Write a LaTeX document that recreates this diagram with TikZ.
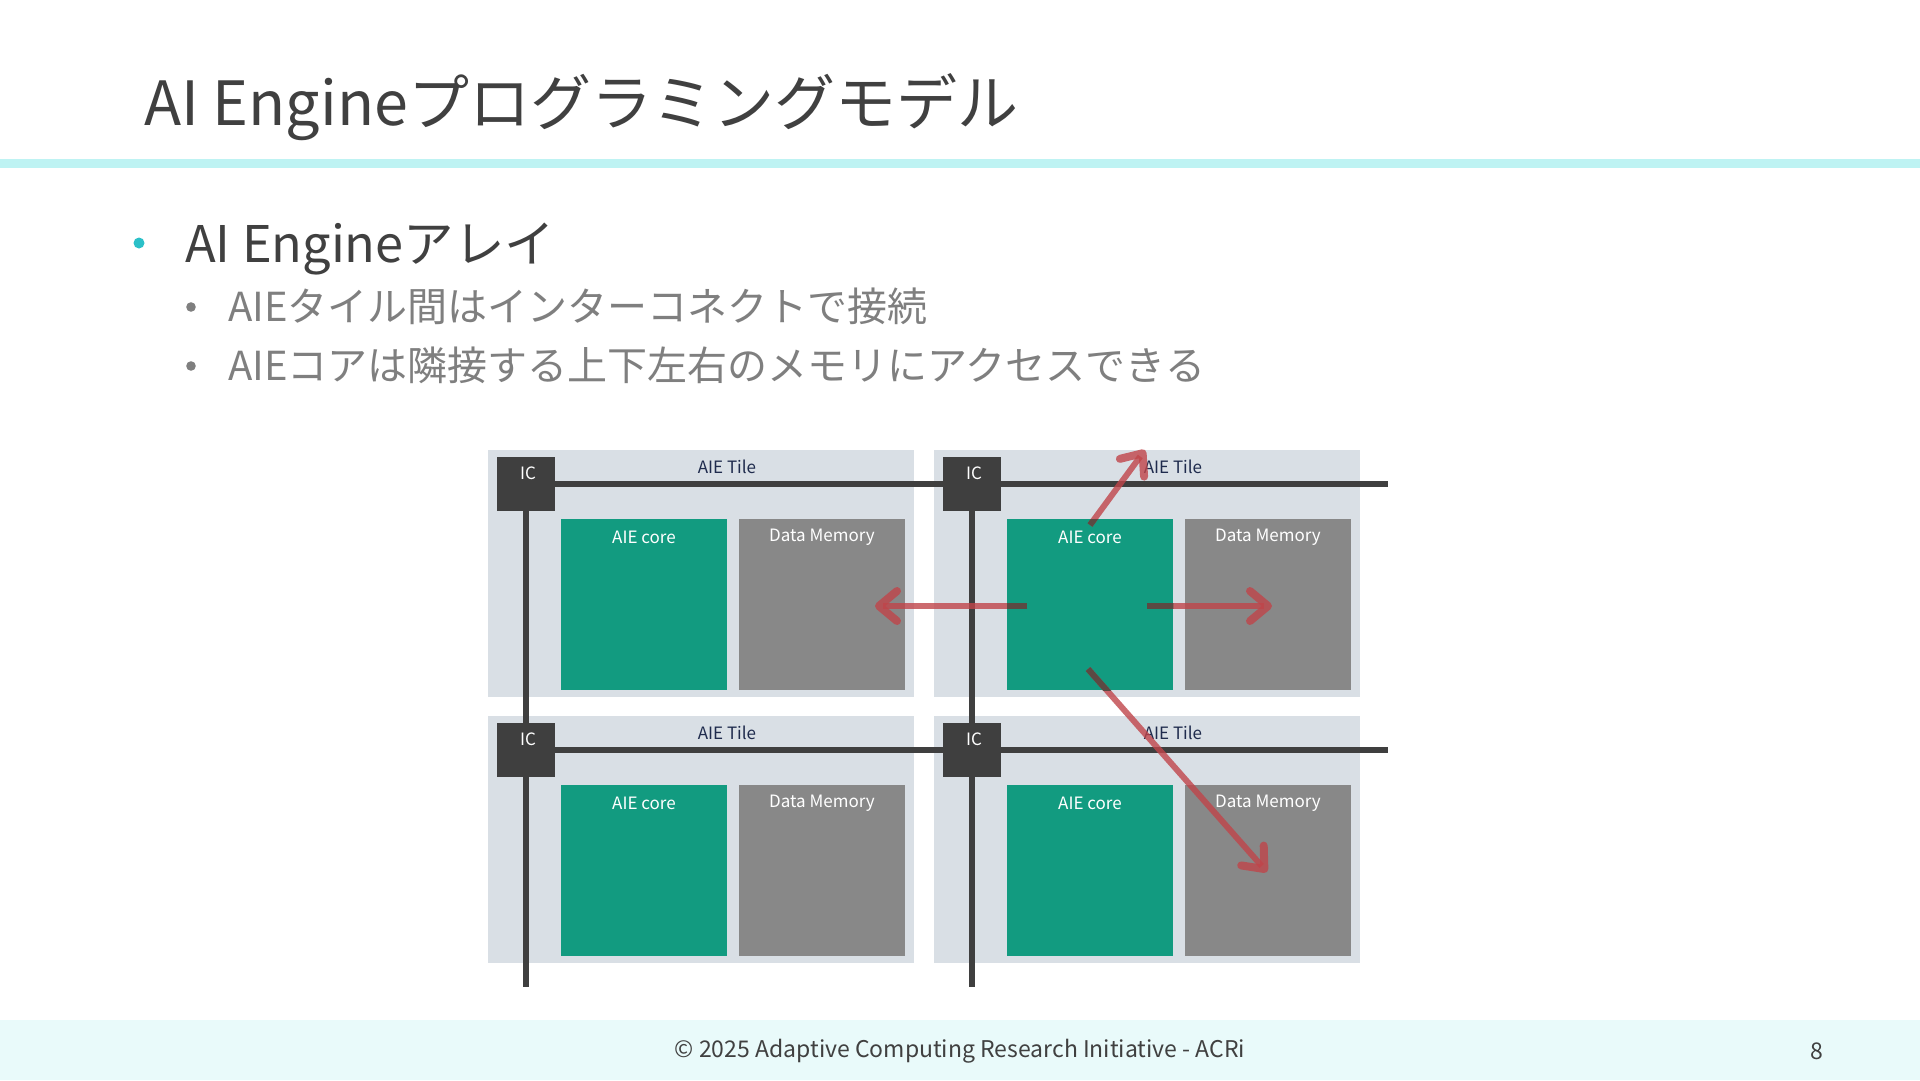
\documentclass[tikz,border=0pt]{standalone}
\usepackage{fontspec}
\setmainfont{Noto Sans CJK JP}
\usetikzlibrary{arrows.meta,positioning,calc}
\definecolor{titlegray}{HTML}{404040}
\definecolor{subgray}{HTML}{7F7F7F}
\definecolor{bandcyan}{HTML}{BEF3F3}
\definecolor{footcyan}{HTML}{E9FAFA}
\definecolor{dotcyan}{HTML}{2BC0C8}
\definecolor{tilebg}{HTML}{D9DFE5}
\definecolor{icgray}{HTML}{3F3F3F}
\definecolor{coreteal}{HTML}{129B80}
\definecolor{memgray}{HTML}{888888}
\definecolor{tilenavy}{HTML}{1F2B4D}
\definecolor{arrowred}{HTML}{C0454A}
\definecolor{arrowdark}{HTML}{5B4A43}
\tikzset{
  tilebox/.style={fill=tilebg, draw=none, minimum width=426pt, minimum height=247pt, inner sep=0pt, anchor=north west},
  icbox/.style={fill=icgray, draw=none, minimum width=58pt, minimum height=54pt, inner sep=0pt},
  corebox/.style={fill=coreteal, draw=none, minimum width=166pt, minimum height=171pt, inner sep=0pt, anchor=north west},
  membox/.style={fill=memgray, draw=none, minimum width=166pt, minimum height=171pt, inner sep=0pt, anchor=north west},
  tilelabel/.style={text=tilenavy, font=\fontsize{17}{20}\selectfont, inner sep=0pt},
  whitelabel/.style={text=white, font=\fontsize{17}{20}\selectfont, inner sep=0pt},
  bus/.style={draw=icgray, line width=6pt},
  access/.style={draw=arrowred, draw opacity=0.8, line width=6pt, -{Straight Barb[length=18pt,width=30pt,line width=8pt,round]}},
  accessin/.style={draw=arrowdark, line width=6pt},
}
\begin{document}
\begin{tikzpicture}[x=1pt,y=-1pt]
\useasboundingbox (0,0) rectangle (1920,1080);
% header / footer
\fill[white] (0,0) rectangle (1920,1080);
\fill[bandcyan] (0,159) rectangle (1920,168);
\fill[footcyan] (0,1020) rectangle (1920,1080);
\node[anchor=base west, inner sep=0pt, text=titlegray, font=\fontsize{61}{73}\selectfont] (title) at (144,125) {AI Engineプログラミングモデル};
\fill[dotcyan] (139,243) circle (5.5);
\node[anchor=base west, inner sep=0pt, text=titlegray, font=\fontsize{50.5}{60}\selectfont] (b1) at (185,262) {AI Engineアレイ};
\fill[subgray] (191,307) circle (4.8);
\node[anchor=base west, inner sep=0pt, text=subgray, font=\fontsize{40}{48}\selectfont] (b2) at (228,321) {AIEタイル間はインターコネクトで接続};
\fill[subgray] (191,366) circle (4.8);
\node[anchor=base west, inner sep=0pt, text=subgray, font=\fontsize{40}{48}\selectfont] (b3) at (228,380) {AIEコアは隣接する上下左右のメモリにアクセスできる};
\node[text=titlegray, inner sep=0pt, font=\fontsize{23}{28}\selectfont] (foot) at (960,1051) {© 2025 Adaptive Computing Research Initiative - ACRi};
\node[text=titlegray, inner sep=0pt, font=\fontsize{23}{28}\selectfont] (pnum) at (1817,1051) {8};
% tiles
\foreach \r/\ty in {1/450,2/716}{
  \foreach \c/\tx in {1/488,2/934}{
    \node[tilebox] (tile\r\c) at (\tx,\ty) {};
    \node[tilelabel] (tl\r\c) at (\tx+239,\ty+17) {AIE Tile};
    \node[corebox] (core\r\c) at (\tx+73,\ty+69) {};
    \node[whitelabel] (cl\r\c) at (\tx+73+83,\ty+69+18) {AIE core};
    \node[membox] (mem\r\c) at (\tx+251,\ty+69) {};
    \node[whitelabel] (ml\r\c) at (\tx+251+83,\ty+69+18) {Data Memory};
  }
}
% interconnect
\coordinate (h1end) at (1388,484);
\coordinate (h2end) at (1388,750);
\coordinate (v1end) at (526,987);
\coordinate (v2end) at (972,987);
\node[icbox] (ic11) at (526,484) {};
\node[icbox] (ic12) at (972,484) {};
\node[icbox] (ic21) at (526,750) {};
\node[icbox] (ic22) at (972,750) {};
\draw[bus] (ic11.east) -- (ic12.west);
\draw[bus] (ic12.east) -- (h1end);
\draw[bus] (ic21.east) -- (ic22.west);
\draw[bus] (ic22.east) -- (h2end);
\draw[bus] (ic11.south) -- (ic21.north);
\draw[bus] (ic21.south) -- (v1end);
\draw[bus] (ic12.south) -- (ic22.north);
\draw[bus] (ic22.south) -- (v2end);
\foreach \n in {11,12,21,22}{
  \node[whitelabel] (icl\n) at ($(ic\n.center)+(2,-11)$) {IC};
}
% access arrows
\coordinate (upS) at (1090,525);
\coordinate (upE) at (1145,450);
\coordinate (rtS) at (1147,606);
\coordinate (rtE) at (1272,606);
\coordinate (ltS) at (1027,606);
\coordinate (ltE) at (875,606);
\coordinate (dgS) at (1088,669);
\coordinate (dgE) at (1267,872);
\draw[access] (upS) -- (upE);
\draw[access] (rtS) -- (rtE);
\draw[access] (ltS) -- (ltE);
\draw[access] (dgS) -- (dgE);
\begin{scope}
  \clip (core12.north west) rectangle (core12.south east);
  \draw[accessin] (upS) -- (upE);
  \draw[accessin] (rtS) -- (rtE);
  \draw[accessin] (ltS) -- (ltE);
  \draw[accessin] (dgS) -- (dgE);
\end{scope}
\end{tikzpicture}
\end{document}
